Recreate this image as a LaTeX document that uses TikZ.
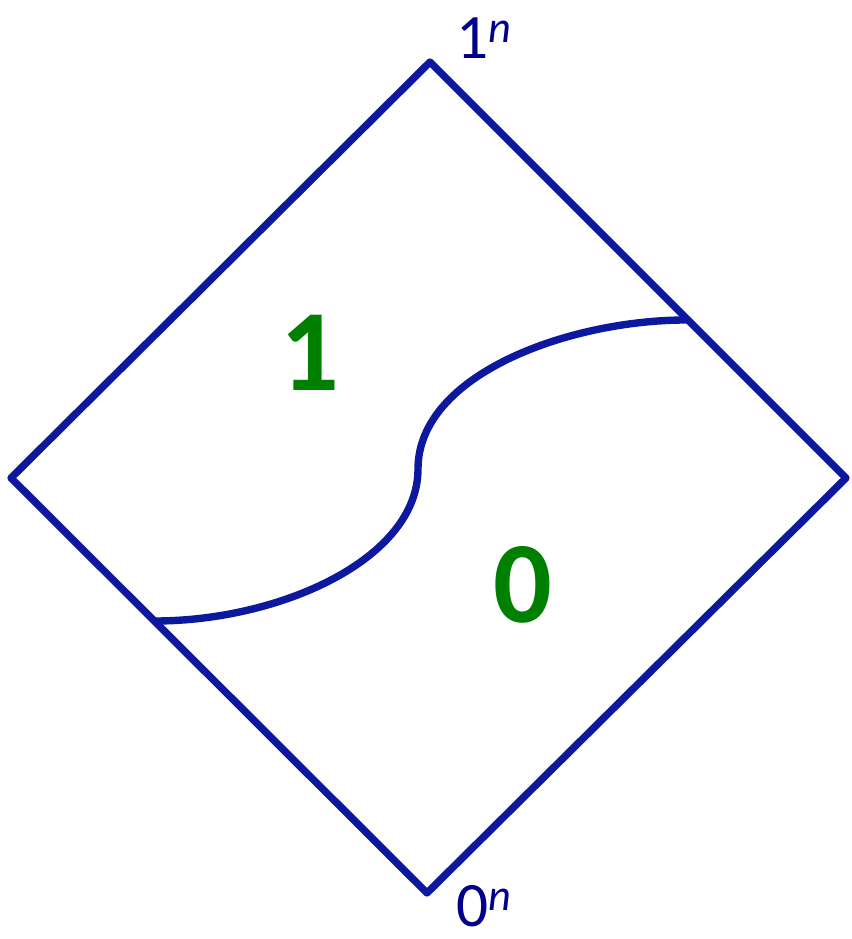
\documentclass[tikz,border=0pt]{standalone}
\usepackage{fontspec}
\setmainfont{Carlito}
\usetikzlibrary{positioning}
\definecolor{edgeblue}{RGB}{12,24,158}
\definecolor{labelblue}{RGB}{0,0,140}
\definecolor{regiongreen}{RGB}{0,128,0}

\begin{document}
\begin{tikzpicture}[
    edge/.style={draw=edgeblue, line width=4.2pt, line join=round, line cap=round},
    corner/.style={text=labelblue, font=\fontsize{36}{40}\selectfont, inner sep=0pt},
    region/.style={text=regiongreen, font=\fontsize{66}{70}\selectfont\bfseries, inner sep=0pt}
]
\useasboundingbox (0,0) rectangle (17.02,18.78);
\coordinate (top) at (8.6,17.54);
\coordinate (right) at (16.92,9.22);
\coordinate (bottom) at (8.54,0.92);
\coordinate (left) at (0.22,9.22);
\coordinate (cutL) at (3.1,6.36);
\coordinate (cutM) at (8.36,9.4);
\coordinate (cutR) at (13.72,12.38);

\draw[edge] (top) -- (right) -- (bottom) -- (left) -- cycle;
\draw[edge] (cutL) .. controls (5.6,6.36) and (8.36,7.6) .. (cutM)
    .. controls (8.36,11.3) and (11.4,12.38) .. (cutR);

\node[corner] (ones) at (9.68,18.02) {1\textsuperscript{\itshape n}};
\node[corner] (zeros) at (9.68,0.66) {0\textsuperscript{\itshape n}};
\node[region] (one) at (6.2,11.72) {1};
\node[region] (zero) at (10.46,7.08) {0};
\end{tikzpicture}
\end{document}
